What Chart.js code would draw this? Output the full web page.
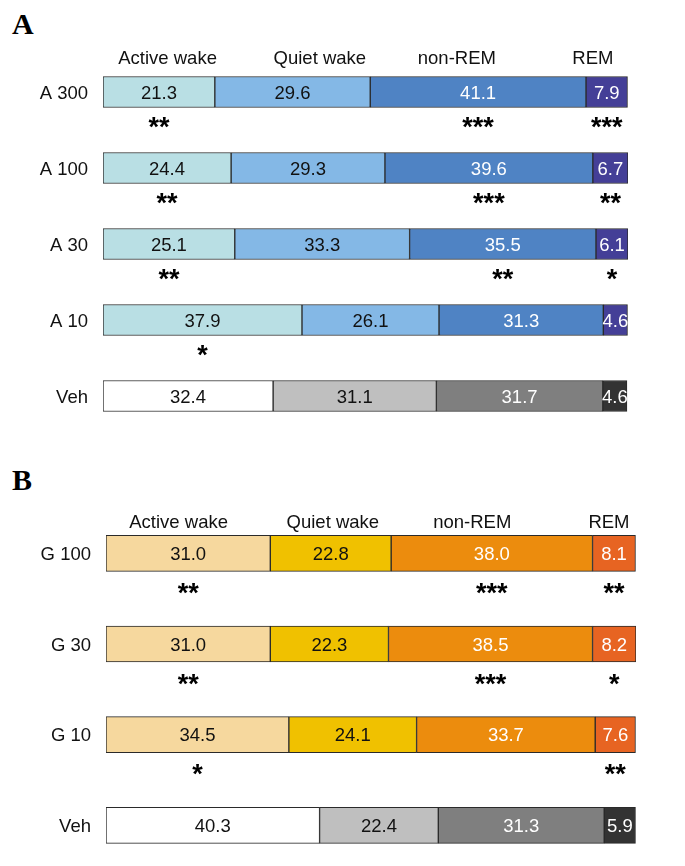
<!DOCTYPE html>
<html>
<head>
<meta charset="utf-8">
<script src="https://cdn.jsdelivr.net/npm/chart.js@4"></script>
<style>
  html, body { margin: 0; padding: 0; background: #fff; width: 685px; height: 866px; overflow: hidden; }
  .wrap { position: absolute; left: 0; width: 685px; }
  .panel { position: absolute; left: 12px; font: bold 30px "Liberation Serif", "Times New Roman", serif; color: #000; line-height: 1; }
</style>
</head>
<body>
<div class="panel" style="top:9px;">A</div>
<div class="panel" style="top:465px;">B</div>
<div class="wrap" style="top:0; height:464px;"><canvas id="chartA" width="685" height="464"></canvas></div>
<div class="wrap" style="top:460px; height:441px;"><canvas id="chartB" width="685" height="441"></canvas></div>
<script>
// ---------- DATA ----------
const stageNames = ["Active wake", "Quiet wake", "non-REM", "REM"];

// Panel A
const groupsA = ["A 300", "A 100", "A 30", "A 10", "Veh"];
const activeWakeA = [21.3, 24.4, 25.1, 37.9, 32.4];
const quietWakeA  = [29.6, 29.3, 33.3, 26.1, 31.1];
const nonREMA     = [41.1, 39.6, 35.5, 31.3, 31.7];
const remA        = [7.9, 6.7, 6.1, 4.6, 4.6];
const starsActiveA = ["**", "**", "**", "*", ""];
const starsQuietA  = ["", "", "", "", ""];
const starsNonREMA = ["***", "***", "**", "", ""];
const starsRemA    = ["***", "**", "*", "", ""];

// Panel B
const groupsB = ["G 100", "G 30", "G 10", "Veh"];
const activeWakeB = [31.0, 31.0, 34.5, 40.3];
const quietWakeB  = [22.8, 22.3, 24.1, 22.4];
const nonREMB     = [38.0, 38.5, 33.7, 31.3];
const remB        = [8.1, 8.2, 7.6, 5.9];
const starsActiveB = ["**", "**", "*", ""];
const starsQuietB  = ["", "", "", ""];
const starsNonREMB = ["***", "***", "", ""];
const starsRemB    = ["**", "*", "**", ""];

// ---------- STYLE ----------
const paletteA = ["#b9dfe4", "#84b8e6", "#4f83c4", "#443f97"];
const paletteB = ["#f6d89e", "#f0c100", "#ec8c0d", "#e76422"];
const paletteVeh = ["#ffffff", "#bfbfbf", "#7f7f7f", "#333333"];
const valueColors = ["#111111", "#111111", "#ffffff", "#ffffff"];
const FONT = '"Liberation Sans", Arial, Helvetica, sans-serif';

function colorsFor(groups, palette, k) {
  return groups.map(g => g === "Veh" ? paletteVeh[k] : palette[k]);
}

const annotPlugin = {
  id: "annot",
  afterDatasetsDraw(chart) {
    const o = chart.options.plugins.annot;
    const ctx = chart.ctx;
    const xs = chart.scales.x;
    ctx.save();
    // headers
    ctx.font = "18.5px " + FONT;
    ctx.fillStyle = "#111";
    ctx.textAlign = "center";
    ctx.textBaseline = "alphabetic";
    stageNames.forEach((name, i) => {
      ctx.fillText(name, xs.getPixelForValue(o.headerPos[i]), o.headerY);
    });
    chart.data.datasets.forEach((ds, di) => {
      const meta = chart.getDatasetMeta(di);
      meta.data.forEach((el, j) => {
        const cx = (el.x + el.base) / 2;
        // value
        ctx.font = "18.5px " + FONT;
        ctx.fillStyle = valueColors[di];
        ctx.textAlign = "center";
        ctx.textBaseline = "middle";
        ctx.fillText(ds.data[j].toFixed(1), cx, el.y + 1.5);
        // stars
        const s = ds.stars[j];
        if (s) {
          ctx.font = "bold 27px " + FONT;
          ctx.fillStyle = "#000";
          ctx.textBaseline = "alphabetic";
          ctx.fillText(s, cx, el.y + el.height / 2 + o.starGap + 15.5);
        }
      });
    });
    ctx.restore();
  }
};

function makeChart(id, groups, series, stars, palette, opts) {
  const datasets = series.map((d, k) => ({
    label: stageNames[k],
    data: d,
    stars: stars[k],
    backgroundColor: colorsFor(groups, palette, k),
    borderColor: "#2a2a2a",
    borderWidth: 1,
    borderSkipped: false,
    barThickness: opts.thickness
  }));
  return new Chart(document.getElementById(id), {
    type: "bar",
    data: { labels: groups, datasets },
    plugins: [annotPlugin],
    options: {
      indexAxis: "y",
      responsive: false,
      animation: false,
      layout: { padding: opts.padding },
      plugins: {
        legend: { display: false },
        tooltip: { enabled: false },
        annot: { headerPos: opts.headerPos, headerY: opts.headerY, starGap: opts.starGap }
      },
      scales: {
        x: { stacked: true, min: 0, max: 100, display: false },
        y: {
          stacked: true,
          grid: { display: false, drawTicks: false },
          border: { display: false },
          ticks: { color: "#111", font: { family: FONT, size: 18.5 }, padding: 15, labelOffset: 1.5 },
          afterFit(s) { s.width = opts.axisWidth; }
        }
      }
    }
  });
}

makeChart("chartA", groupsA,
  [activeWakeA, quietWakeA, nonREMA, remA],
  [starsActiveA, starsQuietA, starsNonREMA, starsRemA],
  paletteA,
  { thickness: 31, padding: { top: 54, bottom: 30, left: 0, right: 57 }, axisWidth: 103,
    headerPos: [12.3, 41.3, 67.4, 93.3], headerY: 64, starGap: 13 });

makeChart("chartB", groupsB,
  [activeWakeB, quietWakeB, nonREMB, remB],
  [starsActiveB, starsQuietB, starsNonREMB, starsRemB],
  paletteB,
  { thickness: 36, padding: { top: 48, bottom: 30.33, left: 0, right: 49 }, axisWidth: 106,
    headerPos: [13.7, 42.8, 69.1, 94.9], headerY: 68, starGap: 15 });
</script>
</body>
</html>
